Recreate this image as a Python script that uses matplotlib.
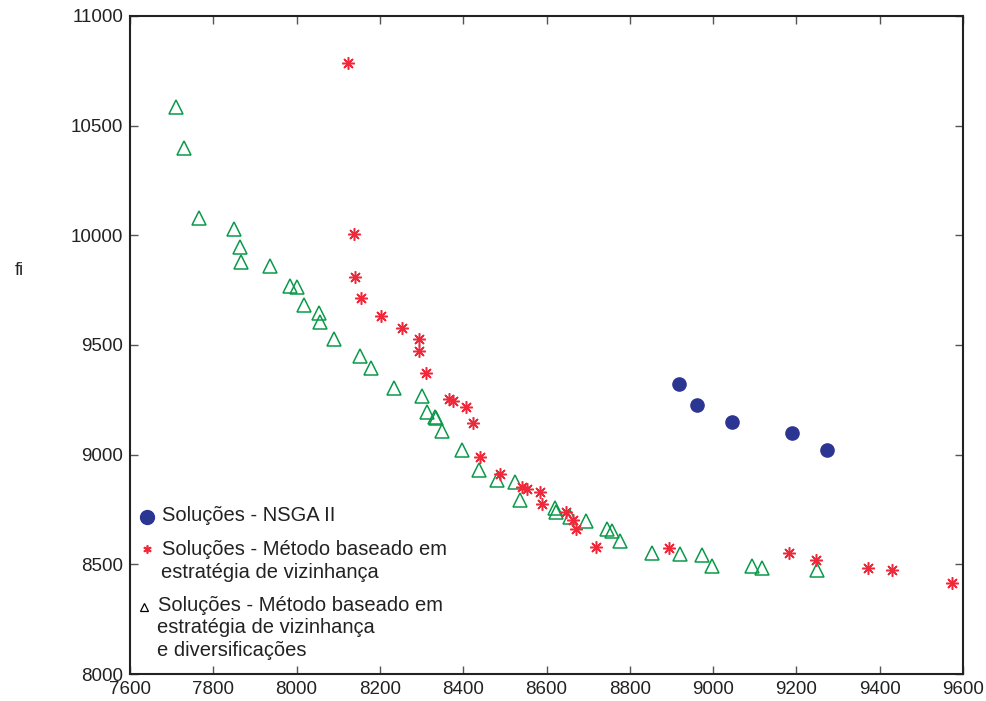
import matplotlib
matplotlib.use('Agg')
import matplotlib.pyplot as plt

plt.rcParams['font.family'] = ['Liberation Sans', 'DejaVu Sans']

# Soluções - NSGA II
nsga_x = [8919, 8961, 9045, 9189, 9273]
nsga_y = [9321, 9226, 9147, 9098, 9020]

# Soluções - método baseado em estratégia de vizinhança
viz_x = [8124, 8137, 8140, 8154, 8203, 8252, 8295, 8295, 8310, 8366, 8376, 8406,
         8424, 8441, 8489, 8541, 8552, 8584, 8588, 8647, 8664, 8670, 8718, 8893,
         9183, 9248, 9373, 9430, 9574]
viz_y = [10784, 10006, 9811, 9713, 9632, 9576, 9526, 9472, 9371, 9252, 9246, 9216,
         9143, 8990, 8912, 8851, 8843, 8831, 8775, 8738, 8702, 8659, 8580, 8575,
         8553, 8519, 8484, 8474, 8416]

# Soluções - método baseado em estratégia de vizinhança e diversificações
div_x = [7710, 7730, 7766, 7850, 7864, 7867, 7936, 7984, 8000, 8018, 8053, 8056,
         8089, 8152, 8178, 8235, 8302, 8312, 8332, 8334, 8350, 8397, 8439, 8482,
         8525, 8537, 8620, 8624, 8656, 8696, 8745, 8758, 8776, 8854, 8921, 8974,
         8998, 9093, 9118, 9250]
div_y = [10584, 10400, 10080, 10027, 9945, 9877, 9862, 9770, 9763, 9682, 9648, 9603,
         9526, 9452, 9396, 9305, 9267, 9194, 9173, 9166, 9110, 9021, 8928, 8886,
         8876, 8795, 8759, 8740, 8716, 8697, 8663, 8652, 8605, 8551, 8547, 8544,
         8493, 8492, 8482, 8476]

x_ticks = [7600, 7800, 8000, 8200, 8400, 8600, 8800, 9000, 9200, 9400, 9600]
y_ticks = [8000, 8500, 9000, 9500, 10000, 10500, 11000]

blue = '#2b3592'
red = '#f0283a'
green = '#0a9a4a'

fig = plt.figure(figsize=(9.87, 7.01), dpi=100)
ax = fig.add_axes([0.1317, 0.0385, 0.8440, 0.9387])

ax.plot(div_x, div_y, linestyle='none', marker='^', markersize=9.5,
        markerfacecolor='none', markeredgecolor=green, markeredgewidth=1.1)
ax.plot(viz_x, viz_y, linestyle='none', marker=(8, 2, 0), markersize=9,
        color=red, markeredgewidth=1.1)
ax.plot(nsga_x, nsga_y, linestyle='none', marker='o', markersize=9.5,
        color=blue, markeredgecolor=blue)

ax.set_xlim(7600, 9600)
ax.set_ylim(8000, 11000)
ax.set_xticks(x_ticks)
ax.set_yticks(y_ticks)
ax.tick_params(direction='in', length=6, width=1, color='#555555',
               top=True, right=True, labelsize=13.5, labelcolor='#222222')
ax.tick_params(axis='x', pad=5)
ax.tick_params(axis='y', pad=5)
for s in ax.spines.values():
    s.set_linewidth(1.5)
    s.set_color('#222222')

ax.set_ylabel('fi', rotation=0, fontsize=13, color='#222222')
ax.yaxis.set_label_coords(-0.133, 0.60)

# legenda (sem moldura, marcador alinhado à primeira linha)
tr = ax.transAxes
leg_fs = 14.5
ax.plot([0.0208], [0.2386], marker='o', markersize=10, color=blue,
        transform=tr, clip_on=False)
ax.plot([0.0202], [0.1898], marker=(6, 2, 0), markersize=6, color=red,
        markeredgewidth=1.2, transform=tr, clip_on=False)
ax.plot([0.0173], [0.1023], marker='^', markersize=6, markerfacecolor='none',
        markeredgecolor='black', markeredgewidth=0.9, transform=tr, clip_on=False)

legend_lines = [
    (0.0380, 0.2330, 'Soluções - NSGA II'),
    (0.0385, 0.1803, 'Soluções - Método baseado em'),
    (0.0373, 0.1459, 'estratégia de vizinhança'),
    (0.0332, 0.0961, 'Soluções - Método baseado em'),
    (0.0324, 0.0617, 'estratégia de vizinhança'),
    (0.0324, 0.0278, 'e diversificações'),
]
for lx, ly, txt in legend_lines:
    ax.text(lx, ly, txt, transform=tr, fontsize=leg_fs, color='#222222',
            ha='left', va='baseline')

fig.savefig('out.png', dpi=100)
